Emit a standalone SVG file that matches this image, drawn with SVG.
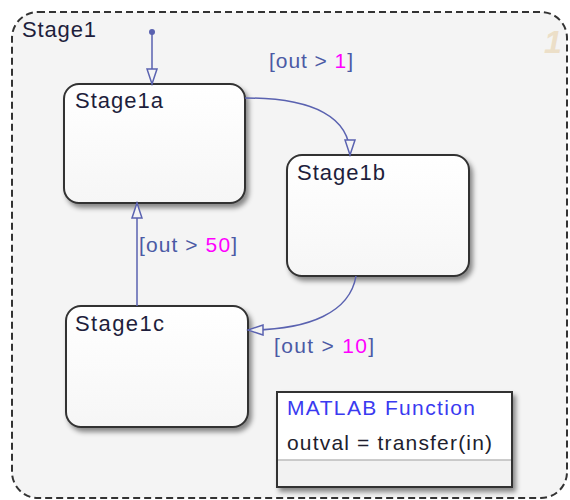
<svg xmlns="http://www.w3.org/2000/svg" width="570" height="500" viewBox="0 0 570 500">
<defs>
<filter id="sh" x="-10%" y="-10%" width="130%" height="130%">
<feDropShadow dx="3" dy="4" stdDeviation="2.5" flood-color="#000" flood-opacity="0.45"/>
</filter>
<linearGradient id="nodefill" x1="0" y1="0" x2="0" y2="1">
<stop offset="0" stop-color="#ffffff"/>
<stop offset="1" stop-color="#f6f6f6"/>
</linearGradient>
<marker id="arr" markerUnits="userSpaceOnUse" markerWidth="18" markerHeight="12" refX="16" refY="6" orient="auto">
<path d="M1,1 L16,6 L1,11 Z" fill="#f4f4f4" stroke="#5a62b0" stroke-width="1.5"/>
</marker>
<style>
.state{fill:url(#nodefill);stroke:#333;stroke-width:2;filter:url(#sh)}
.name{font-family:"Liberation Sans",Arial,sans-serif;font-size:22px;fill:#1e1e3c}
.lbl{font-family:"Liberation Sans",Arial,sans-serif;font-size:21px;fill:#4b5aa5}
.num{fill:#ff00ff}
.conn{fill:none;stroke:#5a62b0;stroke-width:1.5}
</style>
</defs>
<g id="Stage1">
<rect x="12" y="12" width="555" height="486" rx="26" ry="26" fill="#f4f4f4" stroke="#333" stroke-width="2" stroke-dasharray="7,4"/>
<text class="name" x="22" y="37" textLength="74" lengthAdjust="spacing">Stage1</text>
<text x="544" y="53" font-family="Liberation Sans,Arial,sans-serif" font-size="32" font-weight="bold" font-style="italic" fill="#ecdfc8">1</text>
</g>
<g id="Stage1a">
<rect class="state" x="64" y="84" width="181" height="119" rx="15" ry="15"/>
<text class="name" x="75" y="108" textLength="88" lengthAdjust="spacing">Stage1a</text>
</g>
<g id="Stage1b">
<rect class="state" x="287" y="155" width="182" height="121" rx="15" ry="15"/>
<text class="name" x="297" y="180" textLength="88" lengthAdjust="spacing">Stage1b</text>
</g>
<g id="Stage1c">
<rect class="state" x="66" y="306" width="182" height="121" rx="15" ry="15"/>
<text class="name" x="75" y="331" textLength="89" lengthAdjust="spacing">Stage1c</text>
</g>
<g id="MatlabFunction">
<rect x="277" y="392" width="235" height="95" fill="#ffffff" stroke="#333" stroke-width="2" filter="url(#sh)"/>
<rect x="278" y="460" width="233" height="26" fill="#f2f2f2"/>
<line x1="278" y1="460" x2="511" y2="460" stroke="#bbbbbb" stroke-width="1.5"/>
<text x="287" y="415" font-family="Liberation Sans,Arial,sans-serif" font-size="21" fill="#3a3af0" textLength="188" lengthAdjust="spacing">MATLAB Function</text>
<text x="287" y="450" font-family="Liberation Sans,Arial,sans-serif" font-size="21" fill="#1e1e2e" textLength="205" lengthAdjust="spacing">outval = transfer(in)</text>
</g>
<g id="connectors">
<circle cx="152" cy="32" r="3" fill="#5a62b0"/>
<path class="conn" d="M152,32 L152,84" marker-end="url(#arr)"/>
<path class="conn" d="M245,98 C315,98 350,118 350,155" marker-end="url(#arr)"/>
<path class="conn" d="M356,276 C350,312 310,330 248,330" marker-end="url(#arr)"/>
<path class="conn" d="M137,306 L137,203" marker-end="url(#arr)"/>
<text class="lbl" x="269" y="68" textLength="84" lengthAdjust="spacing">[out &gt; <tspan class="num">1</tspan>]</text>
<text class="lbl" x="139" y="252" textLength="98" lengthAdjust="spacing">[out &gt; <tspan class="num">50</tspan>]</text>
<text class="lbl" x="274" y="353" textLength="100" lengthAdjust="spacing">[out &gt; <tspan class="num">10</tspan>]</text>
</g>
</svg>
